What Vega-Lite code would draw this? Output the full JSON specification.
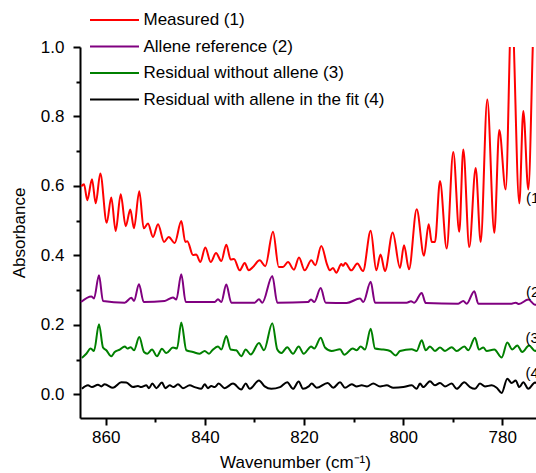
{
  "$schema": "https://vega.github.io/schema/vega-lite/v6.json",
  "width": 456,
  "height": 371,
  "autosize": "none",
  "padding": {"left": 80, "top": 47, "right": 0, "bottom": 55},
  "config": {
    "view": {"stroke": null},
    "font": "Liberation Sans",
    "axis": {"grid": false, "domainColor": "black", "domainWidth": 2, "tickColor": "black", "tickWidth": 2, "labelColor": "black", "labelFontSize": 17, "titleFontSize": 17, "titleFontWeight": "normal", "titleColor": "black", "labelFlush": false, "labelOverlap": false}
  },
  "datasets": {
    "red": [{"x":864.94,"y":0.599},{"x":864.39,"y":0.605},{"x":863.73,"y":0.559},{"x":862.78,"y":0.619},{"x":862.03,"y":0.550},{"x":861.10,"y":0.636},{"x":859.81,"y":0.494},{"x":858.89,"y":0.567},{"x":858.00,"y":0.470},{"x":856.99,"y":0.576},{"x":855.98,"y":0.484},{"x":855.05,"y":0.532},{"x":854.31,"y":0.478},{"x":853.24,"y":0.585},{"x":852.35,"y":0.478},{"x":851.48,"y":0.492},{"x":850.47,"y":0.453},{"x":849.46,"y":0.490},{"x":848.25,"y":0.439},{"x":847.30,"y":0.453},{"x":846.09,"y":0.436},{"x":844.76,"y":0.499},{"x":843.96,"y":0.439},{"x":843.55,"y":0.441},{"x":842.40,"y":0.401},{"x":841.74,"y":0.403},{"x":840.93,"y":0.381},{"x":839.92,"y":0.423},{"x":838.83,"y":0.381},{"x":837.76,"y":0.407},{"x":836.69,"y":0.384},{"x":835.68,"y":0.431},{"x":834.80,"y":0.388},{"x":834.13,"y":0.390},{"x":832.98,"y":0.357},{"x":831.97,"y":0.378},{"x":831.16,"y":0.357},{"x":830.30,"y":0.367},{"x":828.95,"y":0.386},{"x":827.82,"y":0.369},{"x":826.26,"y":0.468},{"x":825.11,"y":0.367},{"x":824.24,"y":0.367},{"x":823.24,"y":0.381},{"x":822.03,"y":0.359},{"x":821.02,"y":0.394},{"x":819.87,"y":0.357},{"x":818.53,"y":0.386},{"x":817.73,"y":0.372},{"x":816.52,"y":0.427},{"x":815.31,"y":0.372},{"x":814.82,"y":0.357},{"x":814.16,"y":0.364},{"x":813.49,"y":0.350},{"x":812.48,"y":0.375},{"x":812.14,"y":0.370},{"x":811.68,"y":0.378},{"x":810.47,"y":0.357},{"x":809.25,"y":0.377},{"x":808.10,"y":0.355},{"x":806.55,"y":0.471},{"x":805.42,"y":0.357},{"x":804.57,"y":0.403},{"x":803.67,"y":0.355},{"x":802.11,"y":0.466},{"x":800.64,"y":0.364},{"x":799.83,"y":0.429},{"x":798.82,"y":0.360},{"x":797.27,"y":0.533},{"x":795.80,"y":0.399},{"x":794.85,"y":0.490},{"x":794.24,"y":0.439},{"x":793.58,"y":0.439},{"x":792.57,"y":0.614},{"x":791.22,"y":0.420},{"x":789.89,"y":0.698},{"x":788.68,"y":0.468},{"x":787.87,"y":0.705},{"x":786.66,"y":0.424},{"x":785.37,"y":0.652},{"x":784.36,"y":0.439},{"x":783.03,"y":0.849},{"x":781.61,"y":0.465},{"x":780.61,"y":0.761},{"x":779.32,"y":0.590},{"x":778.11,"y":1.12},{"x":776.57,"y":0.550},{"x":775.76,"y":0.816},{"x":774.75,"y":0.590},{"x":773.61,"y":1.10},{"x":772.8,"y":1.2}],
    "purple": [{"x":865.0,"y":0.266},{"x":862.92,"y":0.282},{"x":862.38,"y":0.276},{"x":861.37,"y":0.343},{"x":860.56,"y":0.269},{"x":856.18,"y":0.264},{"x":854.85,"y":0.278},{"x":854.31,"y":0.269},{"x":853.30,"y":0.317},{"x":852.35,"y":0.266},{"x":848.11,"y":0.269},{"x":846.44,"y":0.279},{"x":845.77,"y":0.273},{"x":844.76,"y":0.346},{"x":843.87,"y":0.266},{"x":838.02,"y":0.266},{"x":837.36,"y":0.274},{"x":836.69,"y":0.266},{"x":835.68,"y":0.316},{"x":834.68,"y":0.264},{"x":829.95,"y":0.264},{"x":829.09,"y":0.274},{"x":828.42,"y":0.264},{"x":826.40,"y":0.341},{"x":825.39,"y":0.264},{"x":819.20,"y":0.266},{"x":818.60,"y":0.273},{"x":817.93,"y":0.266},{"x":816.64,"y":0.306},{"x":815.63,"y":0.264},{"x":811.39,"y":0.263},{"x":808.71,"y":0.276},{"x":808.04,"y":0.266},{"x":806.55,"y":0.324},{"x":805.68,"y":0.264},{"x":799.29,"y":0.264},{"x":798.42,"y":0.268},{"x":797.75,"y":0.264},{"x":796.26,"y":0.292},{"x":795.46,"y":0.263},{"x":788.88,"y":0.261},{"x":787.87,"y":0.269},{"x":787.18,"y":0.261},{"x":785.65,"y":0.297},{"x":784.84,"y":0.261},{"x":778.11,"y":0.261},{"x":777.30,"y":0.264},{"x":776.63,"y":0.260},{"x":774.75,"y":0.273},{"x":773.40,"y":0.258},{"x":772.8,"y":0.258}],
    "green": [{"x":864.80,"y":0.105},{"x":863.93,"y":0.117},{"x":863.04,"y":0.132},{"x":862.38,"y":0.125},{"x":861.37,"y":0.202},{"x":860.56,"y":0.135},{"x":859.89,"y":0.127},{"x":858.89,"y":0.110},{"x":858.20,"y":0.122},{"x":857.19,"y":0.129},{"x":856.18,"y":0.138},{"x":855.66,"y":0.132},{"x":854.97,"y":0.136},{"x":854.31,"y":0.127},{"x":853.24,"y":0.165},{"x":852.29,"y":0.122},{"x":851.62,"y":0.117},{"x":850.67,"y":0.129},{"x":849.67,"y":0.110},{"x":848.66,"y":0.131},{"x":847.79,"y":0.119},{"x":846.44,"y":0.135},{"x":845.63,"y":0.132},{"x":844.76,"y":0.207},{"x":843.75,"y":0.127},{"x":842.40,"y":0.122},{"x":841.05,"y":0.117},{"x":840.04,"y":0.125},{"x":839.17,"y":0.117},{"x":838.51,"y":0.127},{"x":837.36,"y":0.138},{"x":836.69,"y":0.129},{"x":835.68,"y":0.168},{"x":834.80,"y":0.129},{"x":833.67,"y":0.127},{"x":832.66,"y":0.110},{"x":831.77,"y":0.129},{"x":830.76,"y":0.115},{"x":829.09,"y":0.148},{"x":828.08,"y":0.127},{"x":826.40,"y":0.205},{"x":825.39,"y":0.129},{"x":824.59,"y":0.119},{"x":823.38,"y":0.136},{"x":822.23,"y":0.117},{"x":821.08,"y":0.138},{"x":820.07,"y":0.117},{"x":819.06,"y":0.132},{"x":818.60,"y":0.138},{"x":817.93,"y":0.132},{"x":816.64,"y":0.163},{"x":815.77,"y":0.135},{"x":814.42,"y":0.125},{"x":812.74,"y":0.130},{"x":811.88,"y":0.114},{"x":810.18,"y":0.132},{"x":809.38,"y":0.127},{"x":808.57,"y":0.138},{"x":807.70,"y":0.129},{"x":806.55,"y":0.189},{"x":805.68,"y":0.132},{"x":804.01,"y":0.129},{"x":802.66,"y":0.125},{"x":801.51,"y":0.112},{"x":800.64,"y":0.125},{"x":798.28,"y":0.130},{"x":797.27,"y":0.125},{"x":796.26,"y":0.156},{"x":795.46,"y":0.127},{"x":794.59,"y":0.138},{"x":793.58,"y":0.125},{"x":792.57,"y":0.135},{"x":791.56,"y":0.125},{"x":790.21,"y":0.136},{"x":789.20,"y":0.125},{"x":787.67,"y":0.138},{"x":786.86,"y":0.127},{"x":785.51,"y":0.163},{"x":784.70,"y":0.129},{"x":783.83,"y":0.135},{"x":783.15,"y":0.125},{"x":781.61,"y":0.129},{"x":780.12,"y":0.106},{"x":778.99,"y":0.149},{"x":777.98,"y":0.129},{"x":776.97,"y":0.141},{"x":775.97,"y":0.122},{"x":774.61,"y":0.141},{"x":773.40,"y":0.125},{"x":772.8,"y":0.13}],
    "black": [{"x":864.80,"y":0.016},{"x":863.59,"y":0.026},{"x":862.78,"y":0.021},{"x":861.57,"y":0.028},{"x":860.90,"y":0.023},{"x":860.22,"y":0.029},{"x":858.54,"y":0.019},{"x":856.87,"y":0.035},{"x":855.86,"y":0.034},{"x":854.51,"y":0.021},{"x":853.50,"y":0.024},{"x":852.83,"y":0.021},{"x":851.82,"y":0.026},{"x":851.28,"y":0.018},{"x":850.61,"y":0.031},{"x":849.81,"y":0.018},{"x":848.66,"y":0.034},{"x":847.99,"y":0.018},{"x":847.10,"y":0.026},{"x":846.34,"y":0.021},{"x":845.43,"y":0.029},{"x":844.42,"y":0.018},{"x":843.07,"y":0.026},{"x":842.06,"y":0.021},{"x":840.73,"y":0.016},{"x":840.04,"y":0.029},{"x":839.38,"y":0.018},{"x":838.71,"y":0.024},{"x":838.02,"y":0.021},{"x":837.22,"y":0.031},{"x":836.01,"y":0.018},{"x":834.33,"y":0.031},{"x":832.66,"y":0.014},{"x":831.77,"y":0.031},{"x":830.96,"y":0.016},{"x":829.09,"y":0.040},{"x":827.94,"y":0.023},{"x":826.61,"y":0.016},{"x":824.85,"y":0.021},{"x":823.38,"y":0.035},{"x":822.23,"y":0.016},{"x":821.08,"y":0.037},{"x":820.21,"y":0.016},{"x":819.06,"y":0.023},{"x":818.45,"y":0.031},{"x":817.45,"y":0.019},{"x":815.23,"y":0.033},{"x":814.10,"y":0.019},{"x":812.74,"y":0.035},{"x":811.74,"y":0.019},{"x":810.38,"y":0.029},{"x":809.38,"y":0.023},{"x":808.37,"y":0.026},{"x":807.30,"y":0.023},{"x":806.03,"y":0.031},{"x":804.67,"y":0.023},{"x":803.32,"y":0.026},{"x":801.99,"y":0.019},{"x":799.97,"y":0.021},{"x":798.28,"y":0.026},{"x":797.27,"y":0.016},{"x":796.60,"y":0.031},{"x":795.94,"y":0.021},{"x":794.59,"y":0.038},{"x":793.58,"y":0.026},{"x":792.57,"y":0.033},{"x":791.56,"y":0.023},{"x":790.21,"y":0.031},{"x":789.20,"y":0.016},{"x":787.67,"y":0.035},{"x":786.52,"y":0.021},{"x":785.51,"y":0.016},{"x":784.50,"y":0.031},{"x":783.49,"y":0.023},{"x":782.14,"y":0.026},{"x":781.13,"y":0.019},{"x":780.12,"y":0.004},{"x":778.99,"y":0.045},{"x":778.11,"y":0.033},{"x":777.30,"y":0.040},{"x":776.57,"y":0.021},{"x":775.76,"y":0.035},{"x":774.75,"y":0.016},{"x":773.40,"y":0.034},{"x":772.8,"y":0.03}],
    "labels": [
      {"t": "(1)", "x": 775.22, "y": 0.565},
      {"t": "(2)", "x": 775.22, "y": 0.295},
      {"t": "(3)", "x": 775.3, "y": 0.163},
      {"t": "(4)", "x": 775.3, "y": 0.061}
    ]
  },
  "encoding": {
    "x": {
      "field": "x", "type": "quantitative",
      "scale": {"domain": [773.2, 865.2], "reverse": true, "nice": false, "zero": false},
      "axis": {
        "title": "Wavenumber (cm⁻¹)",
        "values": [860, 850, 840, 830, 820, 810, 800, 790, 780],
        "labelExpr": "datum.value % 20 == 0 ? datum.label : ''",
        "tickSize": {"condition": {"test": "datum.value % 20 == 0", "value": 7}, "value": 4},
        "labelPadding": 4,
        "titlePadding": 9,
        "titleX": 215
      }
    },
    "y": {
      "field": "y", "type": "quantitative",
      "scale": {"domain": [-0.068, 1.0], "nice": false, "zero": false},
      "axis": {
        "title": "Absorbance",
        "values": [0, 0.1, 0.2, 0.3, 0.4, 0.5, 0.6, 0.7, 0.8, 0.9, 1.0],
        "labelExpr": "round(datum.value * 10) % 2 == 0 ? format(datum.value, '.1f') : ''",
        "tickSize": {"condition": {"test": "round(datum.value * 10) % 2 == 0", "value": 7}, "value": 4},
        "labelPadding": 9,
        "titlePadding": 12
      }
    }
  },
  "layer": [
    {
      "data": {"name": "black"},
      "mark": {"type": "line", "clip": true, "strokeWidth": 2, "interpolate": "monotone"},
      "encoding": {
        "color": {
          "datum": "Residual with allene in the fit (4)", "type": "nominal",
          "scale": {
            "domain": ["Measured (1)", "Allene reference (2)", "Residual without allene (3)", "Residual with allene in the fit (4)"],
            "range": ["#ff0000", "#800080", "#008000", "#000000"]
          },
          "legend": {
            "orient": "none", "legendX": 10, "legendY": -38, "direction": "vertical",
            "title": null, "symbolType": "M-2.5,0H2.5", "symbolSize": 384, "symbolStrokeWidth": 2,
            "symbolOffset": 13.5,
            "labelFontSize": 17, "labelLimit": 400, "labelOffset": 18, "rowPadding": 7.5,
            "padding": 0, "labelColor": "black"
          }
        }
      }
    },
    {
      "data": {"name": "green"},
      "mark": {"type": "line", "clip": true, "strokeWidth": 2, "interpolate": "monotone"},
      "encoding": {"color": {"datum": "Residual without allene (3)", "type": "nominal"}}
    },
    {
      "data": {"name": "purple"},
      "mark": {"type": "line", "clip": true, "strokeWidth": 2, "interpolate": "monotone"},
      "encoding": {"color": {"datum": "Allene reference (2)", "type": "nominal"}}
    },
    {
      "data": {"name": "red"},
      "mark": {"type": "line", "clip": true, "strokeWidth": 2, "interpolate": "monotone"},
      "encoding": {"color": {"datum": "Measured (1)", "type": "nominal"}}
    },
    {
      "data": {"name": "labels"},
      "mark": {"type": "text", "align": "left", "baseline": "middle", "fontSize": 15, "color": "black"},
      "encoding": {"text": {"field": "t"}}
    }
  ]
}
